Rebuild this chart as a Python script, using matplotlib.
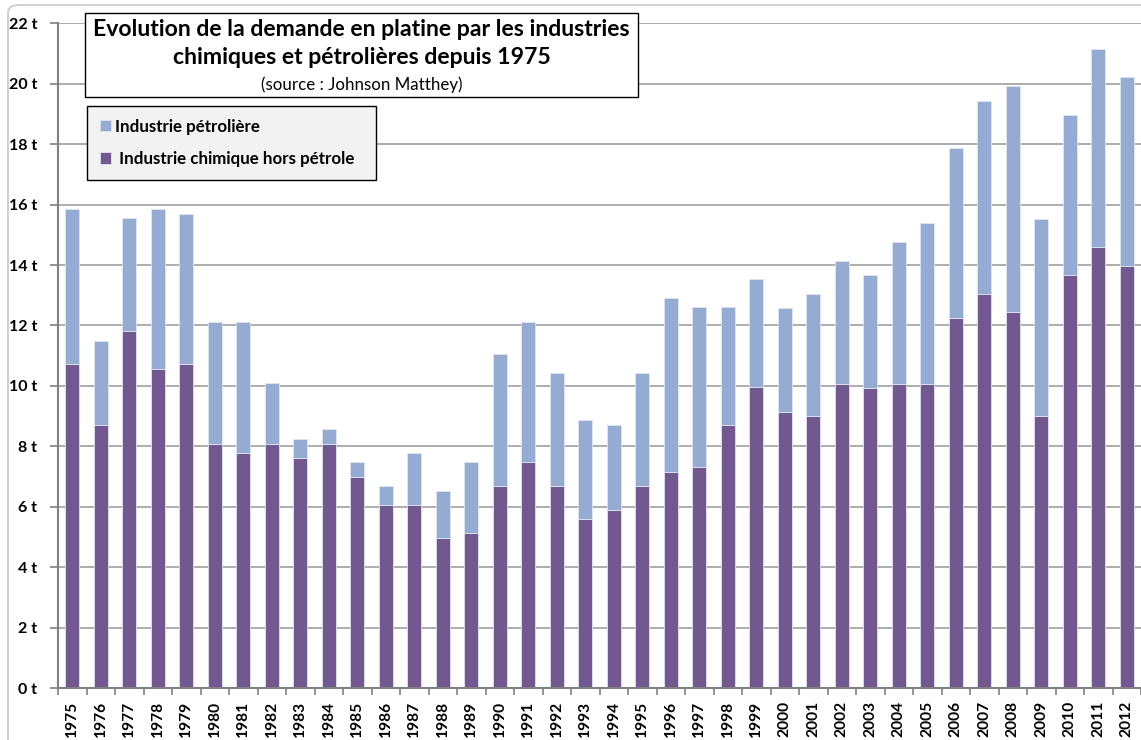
import matplotlib
matplotlib.use("Agg")
import matplotlib.pyplot as plt
from matplotlib.patches import Rectangle, FancyBboxPatch
import numpy as np

years = [str(y) for y in range(1975, 2013)]
chimique = [10.73, 8.7, 11.81, 10.56, 10.73, 8.07, 7.78, 8.07, 7.62, 8.07,
            6.99, 6.05, 6.05, 4.98, 5.14, 6.69, 7.47, 6.69, 5.6, 5.9,
            6.69, 7.16, 7.31, 8.72, 9.95, 9.14, 9.0, 10.06, 9.94, 10.06,
            10.06, 12.25, 13.05, 12.44, 9.0, 13.66, 14.61, 13.97]
total = [15.87, 11.5, 15.54, 15.87, 15.70, 12.12, 12.12, 10.11, 8.24, 8.56,
         7.47, 6.69, 7.78, 6.53, 7.47, 11.04, 12.13, 10.42, 8.87, 8.72,
         10.42, 12.9, 12.6, 12.6, 13.53, 12.58, 13.05, 14.14, 13.67, 14.77,
         15.39, 17.88, 19.44, 19.91, 15.53, 18.95, 21.14, 20.22]
petrolier = [t - c for t, c in zip(total, chimique)]
yticks = list(range(0, 23, 2))
ytick_labels = [f"{v} t" for v in yticks]

title_l1 = "Evolution de la demande en platine par les industries"
title_l2 = "chimiques et pétrolières depuis 1975"
source = "(source : Johnson Matthey)"
lab_petro = "Industrie pétrolière"
lab_chim = " Industrie chimique hors pétrole"

c_chim = "#71588F"
c_petro = "#95ABD2"

plt.rcParams['font.family'] = ['Lato', 'DejaVu Sans']

W, H = 1141, 740
fig = plt.figure(figsize=(W / 100, H / 100), dpi=100)
fig.patch.set_facecolor("white")

# outer chart border
fig.add_artist(FancyBboxPatch((8 / W, -0.1), 1.2, (1 - 5 / H) + 0.1,
                              boxstyle="round,pad=0,rounding_size=0.01",
                              transform=fig.transFigure, fill=False,
                              edgecolor="#C8C8C8", linewidth=1.2, zorder=0))

ax = fig.add_axes([58 / W, 1 - 688 / H, 1 - 58 / W, (688 - 23.3) / H])
x = np.arange(len(years))
b_chim = ax.bar(x, chimique, width=0.49, color=c_chim, edgecolor="#E0E4F0",
                linewidth=0.6, zorder=3)
b_petro = ax.bar(x, petrolier, width=0.49, bottom=chimique, color=c_petro,
                 edgecolor="#E0E4F0", linewidth=0.6, zorder=3)

ax.set_xlim(-0.5, len(years) - 0.5)
ax.set_ylim(0, 22)
ax.set_yticks(yticks)
ax.set_yticklabels(ytick_labels, fontsize=11.5, fontweight="bold")
ax.set_xticks(x)
ax.set_xticklabels(years, rotation=90, fontsize=11.2, fontweight="bold",
                   va="top", ha="center")
ax.set_xticks(np.arange(-0.5, len(years), 1), minor=True)
ax.tick_params(axis="x", which="major", length=0, pad=9)
ax.tick_params(axis="x", which="minor", length=5, color="#808080", width=1.2,
               direction="out")
ax.tick_params(axis="y", length=6, color="#808080", width=1.2, pad=9)
ax.grid(axis="y", color="#A0A0A0", linewidth=1.2, zorder=0)
ax.set_axisbelow(True)
for s in ["top", "right"]:
    ax.spines[s].set_visible(False)
for s in ["left", "bottom"]:
    ax.spines[s].set_color("#808080")
    ax.spines[s].set_linewidth(1.5)
    ax.spines[s].set_zorder(4)

# title box
tx0, tx1, ty0, ty1 = 85, 638, 13, 97
fig.add_artist(Rectangle((tx0 / W, 1 - ty1 / H), (tx1 - tx0) / W, (ty1 - ty0) / H,
                         transform=fig.transFigure, facecolor="white",
                         edgecolor="black", linewidth=1.0, zorder=5))
cx = (tx0 + tx1) / 2 / W
fig.text(cx, 1 - 29 / H, title_l1, ha="center", va="center", fontsize=16.6,
         fontweight="bold", zorder=6)
fig.text(cx, 1 - 58 / H, title_l2, ha="center", va="center", fontsize=16.6,
         fontweight="bold", zorder=6)
fig.text(cx, 1 - 85 / H, source, ha="center", va="center", fontsize=12.2,
         zorder=6)

# legend
leg = ax.legend([b_petro, b_chim], [lab_petro, lab_chim],
                loc="upper left",
                bbox_to_anchor=(87 / W, 1 - 106 / H - 0.01, (376 - 87) / W, 0.01),
                bbox_transform=fig.transFigure, mode="expand",
                frameon=True, fancybox=False, edgecolor="black",
                facecolor="#F2F2F2", framealpha=1, handlelength=0.65,
                handleheight=0.65, handletextpad=0.25, labelspacing=0.95,
                borderpad=0.75, borderaxespad=0,
                prop={"weight": "bold", "size": 12.2})
leg.get_frame().set_linewidth(1.0)
leg.set_zorder(6)

fig.savefig("out.png", dpi=100)
